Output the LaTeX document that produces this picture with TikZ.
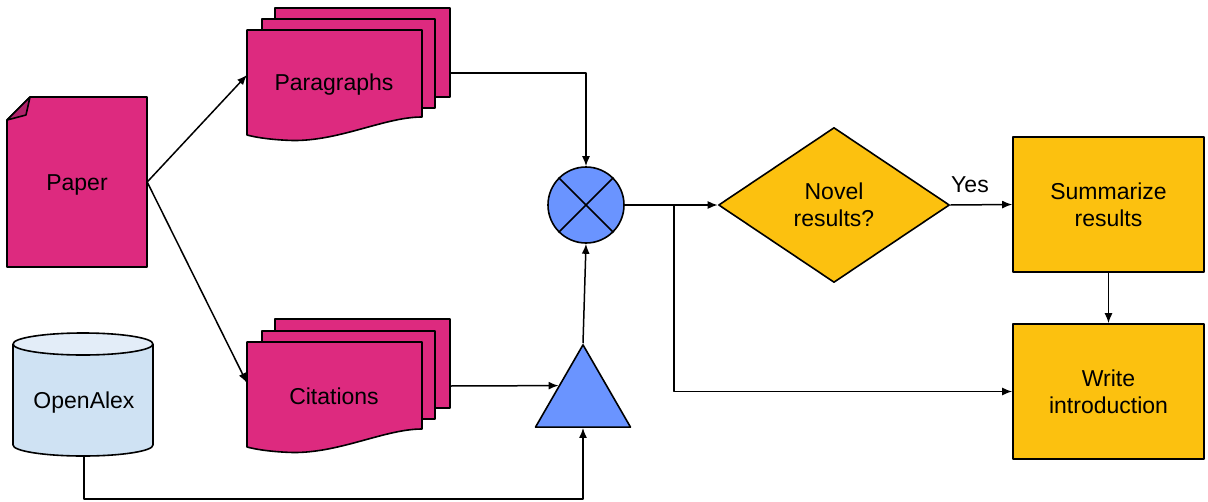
\documentclass[tikz,border=0pt]{standalone}
\usepackage{fontspec}
\setmainfont{Liberation Sans}
\usetikzlibrary{shapes.geometric,arrows.meta}
\definecolor{docpink}{HTML}{DD2A7F}
\definecolor{folddark}{HTML}{B0236A}
\definecolor{opblue}{HTML}{6A94FF}
\definecolor{stepyellow}{HTML}{FCC10F}
\definecolor{cylbody}{HTML}{CFE2F3}
\definecolor{cyltop}{HTML}{E3EDF8}
\begin{document}
\begin{tikzpicture}[x=1pt,y=-1pt,line join=round,
  shp/.style={draw=black,line width=1.6pt},
  arr/.style={draw=black,line width=1.5pt,-{Latex[length=10pt,width=8pt]}},
  lbl/.style={font=\fontsize{23}{27}\selectfont,align=center,text=black}]
\useasboundingbox (0,0) rectangle (1208,501);

% Paper
\filldraw[shp,fill=docpink] (30,97) -- (147,97) -- (147,267) -- (7,267) -- (7,120) -- cycle;
\filldraw[shp,fill=folddark] (7,120) -- (30,97) -- (26,115) -- cycle;
\node[minimum width=140pt,minimum height=170pt,inner sep=0pt] (paper) at (77,182) {};
\node[lbl] (papertext) at (77,185) {Paper};

% Paragraphs stack
\filldraw[shp,fill=docpink] (275,8) rectangle (450,97);
\filldraw[shp,fill=docpink] (262,19) rectangle (435,108);
\filldraw[shp,fill=docpink] (247,30) -- (422,30) -- (422,117)
  .. controls (385,117) and (340,141) .. (293,140.5)
  .. controls (275,140) and (258,138) .. (247,135) -- cycle;
\node[lbl] (par) at (334,85) {Paragraphs};

% Citations stack
\filldraw[shp,fill=docpink] (275,319) rectangle (450,408);
\filldraw[shp,fill=docpink] (262,331) rectangle (435,419);
\filldraw[shp,fill=docpink] (247,342) -- (422,342) -- (422,429)
  .. controls (385,429) and (340,453) .. (293,452.5)
  .. controls (275,452) and (258,450) .. (247,447) -- cycle;
\node[lbl] (cit) at (334,396) {Citations};

% OpenAlex cylinder
\filldraw[shp,fill=cylbody] (13,344) -- (13,445)
  arc[start angle=180,end angle=360,x radius=70pt,y radius=11pt] -- (153,344);
\filldraw[shp,fill=cyltop] (83,344) ellipse[x radius=70pt,y radius=11pt];
\node[lbl] (oa) at (84,403) {OpenAlex};

% Triangle and mixer
\node[regular polygon,regular polygon sides=3,minimum size=109.7pt,inner sep=0pt,
  shp,fill=opblue] (tri) at (583,399.7) {};
\node[circle,minimum size=76pt,inner sep=0pt,shp,fill=opblue] (mix) at (586,205) {};
\draw[shp] (mix.45) -- (mix.225) (mix.135) -- (mix.315);

% Decision and steps
\node[diamond,minimum width=231pt,minimum height=155pt,inner sep=0pt,aspect=1.5,
  shp,fill=stepyellow,lbl] (nov) at (834,205) {Novel\\results?};
\node[rectangle,minimum width=191pt,minimum height=135pt,inner sep=0pt,
  shp,fill=stepyellow,lbl] (sum) at (1108.5,204.5) {Summarize\\results};
\node[rectangle,minimum width=191pt,minimum height=135pt,inner sep=0pt,
  shp,fill=stepyellow,lbl] (write) at (1108.5,391.5) {Write\\introduction};
\node[lbl] (yes) at (970,185) {Yes};

% Connector points
\coordinate (parin) at (247,75);
\coordinate (citin) at (247,383);
\coordinate (parout) at (450,73);
\coordinate (citout) at (450,386);
\coordinate (oabot) at (84,456);
\coordinate (oacorner) at (84,499);
\coordinate (br) at (674,205);

% Connectors
\draw[arr] (paper.east) -- (parin);
\draw[arr] (paper.east) -- (citin);
\draw[arr] (parout) -| (mix.north);
\draw[arr] (citout) -- (tri.side 1);
\draw[arr] (oabot) -- (oacorner) -| (tri.south);
\draw[arr] (tri.corner 1) -- (mix.south);
\draw[arr] (mix.east) -- (nov.west);
\draw[arr] (br) |- (write.west);
\draw[arr] (nov.east) -- (sum.west);
\draw[arr] (sum.south) -- (write.north);
\end{tikzpicture}
\end{document}
